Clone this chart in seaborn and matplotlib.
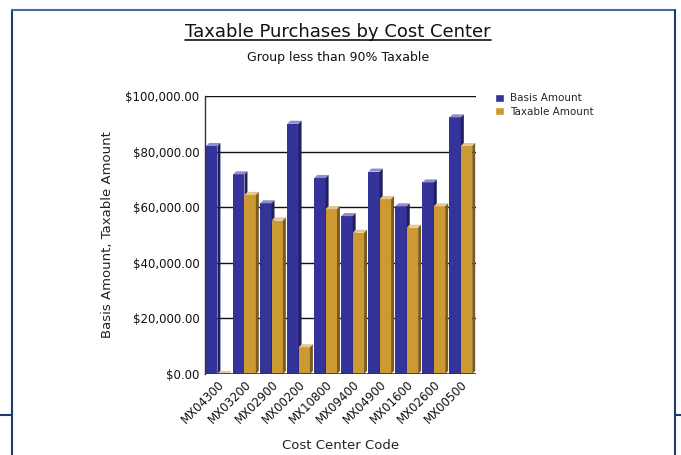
import matplotlib
matplotlib.use("Agg")
import matplotlib.pyplot as plt
import matplotlib.colors as mcolors
from matplotlib.lines import Line2D
from matplotlib.patches import Patch, Polygon
import seaborn as sns
import pandas as pd

# Chart data
cost_centers = ["MX04300", "MX03200", "MX02900", "MX00200", "MX10800",
                "MX09400", "MX04900", "MX01600", "MX02600", "MX00500"]
basis_amount = [82000, 71800, 61400, 90000, 70500, 56800, 72800, 60300, 68900, 92300]
taxable_amount = [0, 64400, 55200, 9600, 59300, 50800, 62900, 52600, 60300, 82000]
series_names = ["Basis Amount", "Taxable Amount"]
y_ticks = [0, 20000, 40000, 60000, 80000, 100000]

BLUE = "#333399"
GOLD = "#cc9933"

df = pd.DataFrame({
    "code": cost_centers * 2,
    "value": basis_amount + taxable_amount,
    "series": [series_names[0]] * len(cost_centers) + [series_names[1]] * len(cost_centers),
})

sns.set_style("white")
plt.rcParams["font.family"] = ["DejaVu Sans"]

W, H = 681, 455
fig = plt.figure(figsize=(W / 100, H / 100), dpi=100)
ax = fig.add_axes([205 / W, 1 - 374 / H, (476 - 205) / W, (374 - 96) / H])

sns.barplot(data=df, x="code", y="value", hue="series", palette=[BLUE, GOLD],
            width=0.84, ax=ax, legend=False, saturation=1, edgecolor="none")

ax.set_xlim(-0.46, 9.56)
ax.set_ylim(0, 100000)

# fake 3D faces on each bar
dx = 0.11
dy = 1100
for i, p in enumerate(ax.patches):
    x0 = p.get_x()
    w = p.get_width()
    h = p.get_height()
    base = 2 if i < len(cost_centers) else 3
    p.set_zorder(base)
    rgb = mcolors.to_rgb(p.get_facecolor())
    dark = tuple(c * 0.6 for c in rgb)
    light = tuple(c + (1 - c) * 0.45 for c in rgb)
    top = Polygon([(x0, h), (x0 + dx, h + dy), (x0 + w + dx, h + dy), (x0 + w, h)],
                  closed=True, facecolor=light, edgecolor="none", zorder=base + 0.1)
    side = Polygon([(x0 + w, 0), (x0 + w, h), (x0 + w + dx, h + dy), (x0 + w + dx, dy)],
                   closed=True, facecolor=dark, edgecolor="none", zorder=base + 0.1)
    ax.add_patch(top)
    ax.add_patch(side)

# grid lines
for t in y_ticks[1:]:
    ax.axhline(t, color="#111111", lw=1, zorder=1)

for s in ["top", "right", "bottom"]:
    ax.spines[s].set_visible(False)
ax.spines["left"].set_color("#333333")
ax.spines["left"].set_linewidth(1)
ax.axhline(0, color="#333333", lw=1.2, zorder=5)

ax.set_yticks(y_ticks)
ax.set_yticklabels([f"${v:,.2f}" for v in y_ticks], fontsize=8.5, color="#111111")
ax.tick_params(axis="y", length=0, pad=4)
ax.tick_params(axis="x", length=0, pad=3)
plt.setp(ax.get_xticklabels(), rotation=45, ha="right", rotation_mode="anchor",
         fontsize=8.5, color="#111111")

ax.set_xlabel("Cost Center Code", fontsize=9.5, color="#222222", labelpad=9)
ax.set_ylabel("Basis Amount, Taxable Amount", fontsize=9.5, color="#222222", labelpad=8)

# titles
title = fig.text(338 / W, 1 - 32 / H, "Taxable Purchases by Cost Center",
                 ha="center", va="center", fontsize=13, color="#111111",
                 fontweight="medium")
fig.text(338 / W, 1 - 58 / H, "Group less than 90% Taxable",
         ha="center", va="center", fontsize=9, color="#111111")

# legend
handles = [Patch(facecolor=BLUE), Patch(facecolor=GOLD)]
fig.legend(handles, series_names, loc="upper left", bbox_to_anchor=(490 / W, 1 - 88 / H),
           frameon=False, fontsize=7.5, handlelength=0.8, handleheight=0.8,
           handletextpad=0.6, labelspacing=0.35, borderpad=0)

# underline the title
fig.canvas.draw()
bb = title.get_window_extent().transformed(fig.transFigure.inverted())
fig.add_artist(Line2D([bb.x0, bb.x1], [bb.y0 + 0.002, bb.y0 + 0.002],
                      color="#111111", lw=1.2))

# page frame
frame_col = "#1f3a73"
fig.add_artist(Line2D([12 / W, 12 / W], [0, 1 - 10 / H], color=frame_col, lw=1.5))
fig.add_artist(Line2D([12 / W, 675 / W], [1 - 10 / H, 1 - 10 / H], color="#4a6a9a", lw=1.5))
fig.add_artist(Line2D([675 / W, 675 / W], [0, 1 - 10 / H], color=frame_col, lw=1.5))
fig.add_artist(Line2D([0, 12 / W], [1 - 415 / H, 1 - 415 / H], color=frame_col, lw=1.5))
fig.add_artist(Line2D([675 / W, 1], [1 - 415 / H, 1 - 415 / H], color=frame_col, lw=1.5))

fig.savefig("out.png", dpi=100)
